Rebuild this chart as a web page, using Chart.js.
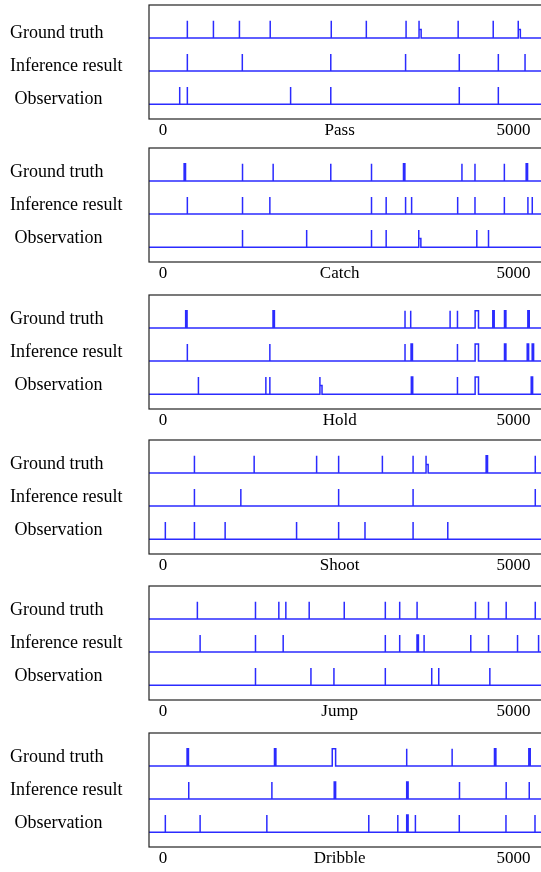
<!DOCTYPE html>
<html>
<head>
<meta charset="utf-8">
<script src="https://cdn.jsdelivr.net/npm/chart.js@4.4.1/dist/chart.umd.min.js"></script>
<style>
    body { margin: 0; background: #fff; width: 541px; height: 872px; overflow: hidden; position: relative; }
    canvas { position: absolute; left: 0; }
</style>
</head>
<body>
<script>
// Panel names and row labels
const panelNames = ["Pass", "Catch", "Hold", "Shoot", "Jump", "Dribble"];
const rowLabels = [" Observation", "Inference result", "Ground truth"];
const xTickValues = [0, 2520, 5000];

// Events: a number is a thin spike, [start, end] a pulse, [start, end, level] a lower pulse
const passTruth = [347, 719, 1090, 1529, 2400, 2900, 3467, 3652, [3652, 3682, 0.5], 4210, 4710, 5067, [5067, 5097, 0.5]];
const passInference = [347, 1131, 2393, 3460, 4226, 4783, 5164];
const passObservation = [238, 347, 1820, 2393, 4226, 4783];

const catchTruth = [[301, 321], 1134, 1571, 2393, 2974, [3430, 3450], 4264, 4450, 4869, [5180, 5200]];
const catchInference = [347, 1134, 1524, 2974, 3183, 3460, 3546, 4203, 4450, 4869, 5205, 5267];
const catchObservation = [1134, 2049, 2974, 3183, 3648, [3648, 3678, 0.5], 4476, 4643];

const holdTruth = [[323, 343], [1569, 1589], 3452, 3533, 4095, 4200, [4452, 4500], [4704, 4724], [4871, 4891], [5204, 5224]];
const holdInference = [347, 1524, 3452, [3538, 3558], 4200, [4452, 4500], [4871, 4891], [5195, 5215], [5266, 5286]];
const holdObservation = [505, 1467, 1524, 2238, [2238, 2268, 0.5], [3542, 3562], 4200, [4452, 4500], [5252, 5272]];

const shootTruth = [448, 1300, 2191, 2505, 3129, 3567, 3752, [3752, 3782, 0.5], [4609, 4629], 5310];
const shootInference = [448, 1110, 2505, 3567, 5310];
const shootObservation = [33, 448, 886, 1905, 2505, 2881, 3567, 4062];

const jumpTruth = [490, 1319, 1652, 1752, 2085, 2585, 3171, 3376, 3624, 4457, 4643, 4895, 5310];
const jumpInference = [529, 1319, 1714, 3171, 3376, [3623, 3643], 3724, 4390, 4643, 5057, 5357];
const jumpObservation = [1319, 2110, 2438, 3171, 3833, 3933, 4662];

const dribbleTruth = [[343, 363], [1590, 1610], [2414, 2462], 3476, 4124, [4728, 4748], [5218, 5238]];
const dribbleInference = [367, 1553, [2442, 2462], [3476, 3496], 4229, 4895, 5224];
const dribbleObservation = [33, 529, 1481, 2935, 3349, [3476, 3496], 3600, 4226, 4892, 5306];

const panelRows = [
    [passObservation, passInference, passTruth],
    [catchObservation, catchInference, catchTruth],
    [holdObservation, holdInference, holdTruth],
    [shootObservation, shootInference, shootTruth],
    [jumpObservation, jumpInference, jumpTruth],
    [dribbleObservation, dribbleInference, dribbleTruth],
];

const panelTops = [5, 148, 295, 440, 586, 733];
const labelLift = [0.15, 0.27, 0.27, 0.27, 0.27, 0.27];
const X_MIN = -200;
const X_MAX = 5520;
const SPIKE = 0.52;
const LINE_COLOR = "#2b2bff";

// Turn a list of events into a pulse train sitting on `base`
function rowPoints(events, base){
    let points = [{x: X_MIN, y: base}];
    events.forEach(ev => {
        const start = Array.isArray(ev) ? ev[0] : ev;
        const end = Array.isArray(ev) ? ev[1] : ev;
        const level = Array.isArray(ev) && ev[2] !== undefined ? ev[2] : 1;
        const top = base + SPIKE * level;
        points.push({x: start, y: base}, {x: start, y: top}, {x: end, y: top}, {x: end, y: base});
    });
    points.push({x: X_MAX, y: base});
    return points;
};

const framePlugin = {
    id: "frame",
    afterDraw(chart){
        const {ctx, chartArea} = chart;
        ctx.save();
        ctx.strokeStyle = "#222";
        ctx.lineWidth = 1.2;
        ctx.strokeRect(chartArea.left, chartArea.top, chartArea.right - chartArea.left, chartArea.bottom - chartArea.top);
        ctx.restore();
    }
};

panelNames.forEach((name, p) => {
    const canvas = document.createElement("canvas");
    canvas.width = 560;
    canvas.height = 140;
    canvas.style.top = (panelTops[p] - 2) + "px";
    document.body.appendChild(canvas);

    const datasets = panelRows[p].map((events, row) => ({
        label: rowLabels[row],
        data: rowPoints(events, row),
        borderColor: LINE_COLOR,
        borderWidth: 1.5,
        pointRadius: 0,
        tension: 0,
        fill: false,
    }));

    new Chart(canvas, {
        type: "line",
        data: {datasets: datasets},
        plugins: [framePlugin],
        options: {
            responsive: false,
            animation: false,
            parsing: false,
            layout: {padding: {left: 10, top: 2, right: 10, bottom: 0}},
            scales: {
                x: {
                    type: "linear",
                    min: X_MIN,
                    max: X_MAX,
                    afterBuildTicks: (scale) => {
                        scale.ticks = xTickValues.map(v => ({value: v}));
                    },
                    afterFit: (scale) => {
                        scale.height = 24;
                        scale.paddingLeft = 0;
                        scale.paddingRight = 0;
                    },
                    ticks: {
                        autoSkip: false,
                        maxRotation: 0,
                        padding: 1,
                        color: "#000",
                        font: {family: "'Liberation Serif', 'Times New Roman', serif", size: 17},
                        callback: (value, index) => [ "0", name, "5000" ][index],
                    },
                    grid: {display: false, drawTicks: false},
                    border: {display: false},
                },
                y: {
                    type: "linear",
                    min: -0.45,
                    max: 3.0,
                    afterBuildTicks: (scale) => {
                        scale.ticks = [0, 1, 2].map(v => ({value: v + labelLift[p]}));
                    },
                    afterFit: (scale) => {
                        scale.width = 139;
                        scale.paddingTop = 0;
                        scale.paddingBottom = 0;
                    },
                    ticks: {
                        crossAlign: "far",
                        padding: 0,
                        color: "#000",
                        font: {family: "'Liberation Serif', 'Times New Roman', serif", size: 18},
                        callback: (value, index) => rowLabels[index],
                    },
                    grid: {display: false, drawTicks: false},
                    border: {display: false},
                }
            },
            plugins: {
                legend: {display: false},
                tooltip: {enabled: false},
            }
        }
    });
});
</script>
</body>
</html>
